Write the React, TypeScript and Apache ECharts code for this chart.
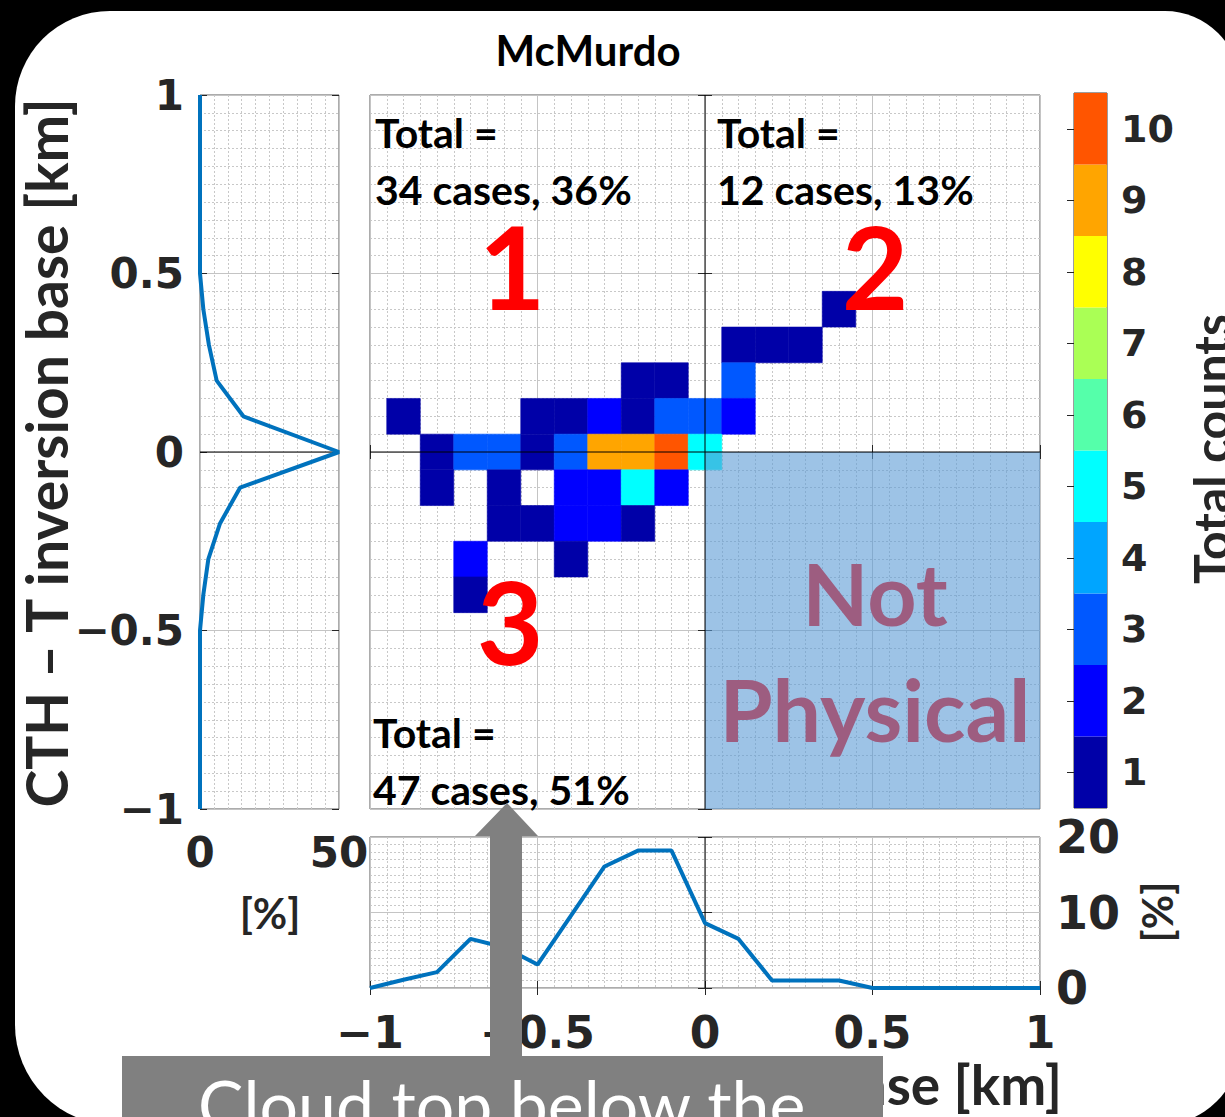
import React, { useEffect, useRef } from 'react';
import * as echarts from 'echarts';

// ---------------- data ----------------
const TITLE = 'McMurdo';
const Y_LABEL = 'CTH \u2013 T inversion base [km]';
const X_LABEL = 'CBH \u2013 T inversion base [km]';
const CB_LABEL = 'Total counts';
const PCT_LABEL = '[%]';

// heat-map cells: [CBH - T inv. base (km), CTH - T inv. base (km), counts]
const CELLS: number[][] = [
  [0.4, 0.4, 1],
  [0.1, 0.3, 1], [0.2, 0.3, 1], [0.3, 0.3, 1],
  [-0.2, 0.2, 1], [-0.1, 0.2, 1], [0.1, 0.2, 3],
  [-0.9, 0.1, 1], [-0.5, 0.1, 1], [-0.4, 0.1, 1], [-0.3, 0.1, 2], [-0.2, 0.1, 1], [-0.1, 0.1, 3], [0.0, 0.1, 3], [0.1, 0.1, 2],
  [-0.8, 0.0, 1], [-0.7, 0.0, 3], [-0.6, 0.0, 3], [-0.5, 0.0, 1], [-0.4, 0.0, 3], [-0.3, 0.0, 9], [-0.2, 0.0, 9], [-0.1, 0.0, 10], [0.0, 0.0, 5],
  [-0.8, -0.1, 1], [-0.6, -0.1, 1], [-0.4, -0.1, 2], [-0.3, -0.1, 2], [-0.2, -0.1, 5], [-0.1, -0.1, 2],
  [-0.6, -0.2, 1], [-0.5, -0.2, 1], [-0.4, -0.2, 2], [-0.3, -0.2, 2], [-0.2, -0.2, 1],
  [-0.7, -0.3, 2], [-0.4, -0.3, 1],
  [-0.7, -0.4, 1],
];
const BIN_HALF = 0.05;

// "Not physical" region [x0, y0, x1, y1]
const NOT_PHYSICAL = [[0, -1, 1, 0]];

const COUNT_LEVELS = ['1', '2', '3', '4', '5', '6', '7', '8', '9', '10'];
const JET = ['#0000A8', '#0000FF', '#0058FF', '#00A5FF', '#00FFFF', '#55FFAA', '#AAFF55', '#FFFF00', '#FFA500', '#FF5500'];

// marginal distributions
const PROFILE_LEVELS = [-1.0, -0.9, -0.8, -0.7, -0.6, -0.5, -0.4, -0.3, -0.2, -0.1, 0.0, 0.1, 0.2, 0.3, 0.4, 0.5, 0.6, 0.7, 0.8, 0.9, 1.0];
const LEFT_PCT = [0, 0, 0, 0, 0, 0, 1.2, 3.0, 7.2, 14.4, 50, 15.6, 6.0, 3.2, 1.2, 0, 0, 0, 0, 0, 0];
const BOTTOM_PCT = [0, 1.1, 2.1, 6.5, 5.4, 3.1, 9.6, 16.1, 18.2, 18.2, 8.6, 6.5, 1.0, 1.0, 1.0, 0, 0, 0, 0, 0, 0];

const QUADRANT_TOTALS = ['34 cases, 36%', '12 cases, 13%', '47 cases, 51%'];
const QUADRANT_IDS = ['1', '2', '3'];
const NOT_PHYSICAL_TEXT = ['Not', 'Physical'];
const CALLOUT = 'Cloud top below the';

// ---------------- styles ----------------
const INK = '#262626';
const TICK_FONT = 'DejaVu Sans';
const TEXT_FONT = 'Lato';
const LINE_BLUE = '#0072BD';

const minus = (v: number) => String(v).replace('-', '\u2212');

const tickLabel = (size: number, margin: number, show = true) => ({
  show,
  fontFamily: TICK_FONT,
  fontWeight: 'bold',
  fontSize: size,
  color: INK,
  margin,
  formatter: minus,
});

const grids = (show: boolean) => ({
  splitLine: { show, lineStyle: { color: '#c4c4c4', width: 1 } },
  minorTick: { show: false, splitNumber: 10 },
  minorSplitLine: { show, lineStyle: { color: '#c8c8c8', width: 1, type: [2, 2] } },
});

const ticks = { show: true, inside: true, length: 7, lineStyle: { color: INK, width: 1 } };

const valueAxis = (gridIndex: number, min: number, max: number, interval: number, extra: any) => ({
  type: 'value',
  gridIndex,
  min,
  max,
  interval,
  axisLine: { show: false },
  axisTick: ticks,
  axisLabel: { show: false },
  splitLine: { show: false },
  ...extra,
});

const txt = (
  text: string,
  x: number,
  y: number,
  size: number,
  opts: any = {}
) => ({
  type: 'text',
  x,
  y,
  rotation: opts.rotation || 0,
  z: opts.z ?? 10,
  silent: true,
  style: {
    text,
    fill: opts.fill || '#000',
    fontFamily: opts.family || TEXT_FONT,
    fontWeight: opts.weight || 'bold',
    fontSize: size,
    align: opts.align || 'left',
    textAlign: opts.align || 'left',
    verticalAlign: 'middle',
    textVerticalAlign: 'middle',
  },
});

export default function App() {
  const ref = useRef<HTMLDivElement>(null);

  useEffect(() => {
    if (!ref.current) return;
    const chart = echarts.init(ref.current, undefined, { renderer: 'svg' });

    const frame = { show: true, borderColor: '#595959', borderWidth: 1, backgroundColor: 'rgba(0,0,0,0)' };

    const option: any = {
      animation: false,
      backgroundColor: '#000',
      grid: [
        { left: 370, top: 95, width: 670, height: 714, ...frame },
        { left: 200, top: 95, width: 139, height: 714, ...frame },
        { left: 370, top: 837, width: 670, height: 151, ...frame },
        { left: 1074, top: 93, width: 33, height: 715, ...frame, borderColor: '#3a3a3a' },
      ],
      xAxis: [
        valueAxis(0, -1, 1, 0.5, grids(true)),
        valueAxis(0, -1, 1, 0.5, { position: 'top' }),
        valueAxis(1, 0, 50, 50, { axisTick: { show: false }, axisLabel: tickLabel(42, 22), ...grids(true) }),
        valueAxis(2, -1, 1, 0.5, { axisLabel: tickLabel(44, 22), ...grids(true) }),
        valueAxis(2, -1, 1, 0.5, { position: 'top' }),
        { type: 'value', gridIndex: 3, min: 0, max: 1, show: false },
      ],
      yAxis: [
        valueAxis(0, -1, 1, 0.5, grids(true)),
        valueAxis(0, -1, 1, 0.5, { position: 'right' }),
        valueAxis(1, -1, 1, 0.5, { axisLabel: tickLabel(42, 16), ...grids(true) }),
        valueAxis(1, -1, 1, 0.5, { position: 'right' }),
        valueAxis(2, 0, 20, 10, { position: 'right', axisLabel: tickLabel(46, 16), ...grids(true) }),
        valueAxis(2, 0, 20, 10, { position: 'left' }),
        {
          type: 'category',
          gridIndex: 3,
          position: 'right',
          data: COUNT_LEVELS,
          axisLine: { show: false },
          axisTick: { show: true, inside: true, alignWithLabel: true, length: 7, lineStyle: { color: INK } },
          axisLabel: { ...tickLabel(38, 14), formatter: undefined },
          splitLine: { show: false },
        },
      ],
      series: [
        {
          type: 'custom',
          xAxisIndex: 0,
          yAxisIndex: 0,
          z: 2,
          silent: true,
          clip: true,
          data: CELLS,
          renderItem: (_p: any, api: any) => {
            const x = api.value(0);
            const y = api.value(1);
            const c = api.value(2);
            const a = api.coord([x - BIN_HALF, y + BIN_HALF]);
            const b = api.coord([x + BIN_HALF, y - BIN_HALF]);
            const col = JET[c - 1];
            return {
              type: 'rect',
              shape: { x: a[0], y: a[1], width: b[0] - a[0], height: b[1] - a[1] },
              style: { fill: col, stroke: col, lineWidth: 0.6 },
            };
          },
        },
        {
          type: 'custom',
          xAxisIndex: 0,
          yAxisIndex: 0,
          z: 4,
          silent: true,
          data: NOT_PHYSICAL,
          renderItem: (_p: any, api: any) => {
            const a = api.coord([api.value(0), api.value(3)]);
            const b = api.coord([api.value(2), api.value(1)]);
            return {
              type: 'rect',
              shape: { x: a[0], y: a[1], width: b[0] - a[0], height: b[1] - a[1] },
              style: { fill: 'rgba(91,155,213,0.6)' },
            };
          },
        },
        {
          type: 'line', xAxisIndex: 0, yAxisIndex: 0, z: 5, silent: true, symbol: 'none',
          data: [[-1, 0], [1, 0]], lineStyle: { color: '#000', width: 1 },
        },
        {
          type: 'line', xAxisIndex: 0, yAxisIndex: 0, z: 5, silent: true, symbol: 'none',
          data: [[0, -1], [0, 1]], lineStyle: { color: '#000', width: 1 },
        },
        {
          type: 'line', xAxisIndex: 2, yAxisIndex: 2, z: 5, silent: true, symbol: 'none',
          data: [[0, 0], [50, 0]], lineStyle: { color: '#000', width: 1 },
        },
        {
          type: 'line', xAxisIndex: 2, yAxisIndex: 2, z: 6, silent: true, symbol: 'none', clip: false,
          data: LEFT_PCT.map((p, i) => [p, PROFILE_LEVELS[i]]),
          lineStyle: { color: LINE_BLUE, width: 4 },
        },
        {
          type: 'line', xAxisIndex: 3, yAxisIndex: 4, z: 5, silent: true, symbol: 'none',
          data: [[0, 0], [0, 20]], lineStyle: { color: '#000', width: 1 },
        },
        {
          type: 'line', xAxisIndex: 3, yAxisIndex: 4, z: 6, silent: true, symbol: 'none', clip: false,
          data: PROFILE_LEVELS.map((x, i) => [x, BOTTOM_PCT[i]]),
          lineStyle: { color: LINE_BLUE, width: 4 },
        },
        {
          type: 'bar', xAxisIndex: 5, yAxisIndex: 6, z: 2, silent: true,
          barWidth: '100%', barCategoryGap: '0%',
          data: JET.map((c) => ({ value: 1, itemStyle: { color: c } })),
        },
      ],
      graphic: [
        {
          type: 'rect', z: -10, silent: true,
          shape: { x: 15, y: 11, width: 1225, height: 1114, r: [95, 75, 80, 100] },
          style: { fill: '#fff' },
        },
        txt(TITLE, 588, 50, 42, { align: 'center' }),
        txt(Y_LABEL, 46, 453, 57, { align: 'center', rotation: Math.PI / 2, fill: INK }),
        txt('Total =', 375, 132, 41),
        txt(QUADRANT_TOTALS[0], 375, 189, 41),
        txt('Total =', 717, 132, 41),
        txt(QUADRANT_TOTALS[1], 717, 189, 41),
        txt('Total =', 373, 732, 41),
        txt(QUADRANT_TOTALS[2], 373, 789, 41),
        txt(QUADRANT_IDS[0], 512, 265, 115, { align: 'center', fill: '#FF0000' }),
        txt(QUADRANT_IDS[1], 875, 265, 115, { align: 'center', fill: '#FF0000' }),
        txt(QUADRANT_IDS[2], 510, 620, 115, { align: 'center', fill: '#FF0000' }),
        txt(NOT_PHYSICAL_TEXT[0], 875, 592, 86, { align: 'center', fill: '#FF0000', z: 3 }),
        txt(NOT_PHYSICAL_TEXT[1], 875, 708, 86, { align: 'center', fill: '#FF0000', z: 3 }),
        txt(CB_LABEL, 1211, 449, 50, { align: 'center', rotation: Math.PI / 2, fill: INK }),
        txt(PCT_LABEL, 270, 913, 42, { align: 'center', fill: INK }),
        txt(PCT_LABEL, 1157, 912, 42, { align: 'center', rotation: Math.PI / 2, fill: INK }),
        txt(X_LABEL, 1062, 1084, 55, { align: 'right', fill: INK }),
        {
          type: 'polygon', z: 20, silent: true,
          shape: { points: [[490, 1060], [490, 836], [475, 836], [507, 803], [538, 836], [522, 836], [522, 1060]] },
          style: { fill: '#808080' },
        },
        {
          type: 'rect', z: 20, silent: true,
          shape: { x: 122, y: 1056, width: 761, height: 80 },
          style: { fill: '#808080' },
        },
        txt(CALLOUT, 198, 1103, 68, { fill: '#fff', weight: 'normal', z: 21 }),
      ],
    };

    chart.setOption(option);
    return () => chart.dispose();
  }, []);

  return (
    <div
      ref={ref}
      style={{ position: 'fixed', left: 0, top: 0, width: 1225, height: 1117, background: '#000' }}
    />
  );
}
